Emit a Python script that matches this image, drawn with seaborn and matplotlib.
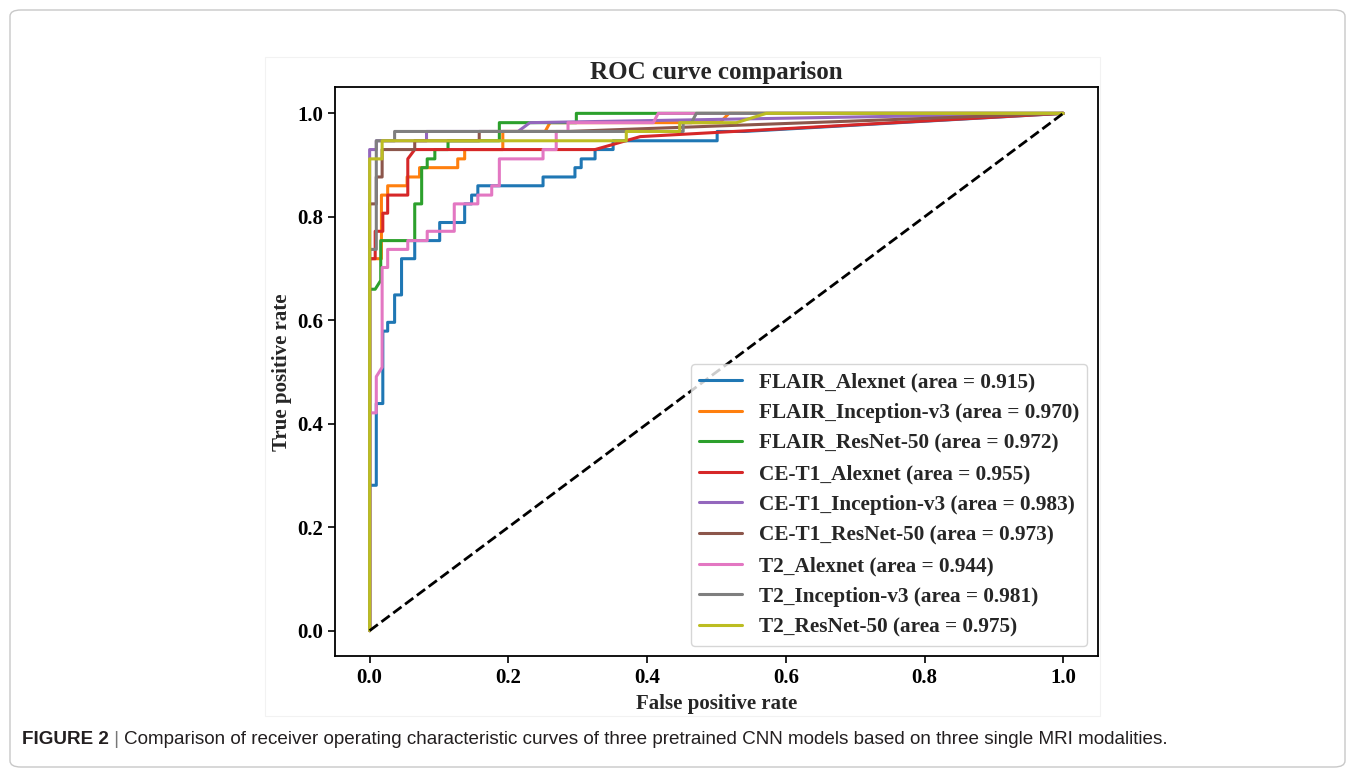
import matplotlib
matplotlib.use("Agg")
import matplotlib.pyplot as plt
import seaborn as sns
from matplotlib.patches import FancyBboxPatch, Rectangle

# ROC curve vertices (fpr, tpr)
flair_alexnet_fpr = [0, 0, 0.0096, 0.0096, 0.019, 0.019, 0.026, 0.026, 0.036, 0.036, 0.046, 0.046,
                     0.065, 0.065, 0.101, 0.101, 0.137, 0.137, 0.147, 0.147, 0.156, 0.156, 0.25, 0.25,
                     0.296, 0.296, 0.305, 0.305, 0.325, 0.325, 0.351, 0.351, 0.501, 0.501, 0.54, 1.0]
flair_alexnet_tpr = [0, 0.281, 0.281, 0.439, 0.439, 0.579, 0.579, 0.596, 0.596, 0.649, 0.649, 0.719,
                     0.719, 0.754, 0.754, 0.789, 0.789, 0.825, 0.825, 0.842, 0.842, 0.86, 0.86, 0.877,
                     0.877, 0.895, 0.895, 0.912, 0.912, 0.93, 0.93, 0.947, 0.947, 0.965, 0.965, 1.0]

flair_inception_fpr = [0, 0, 0.017, 0.017, 0.026, 0.026, 0.054, 0.054, 0.072, 0.072, 0.127, 0.127,
                       0.137, 0.137, 0.192, 0.192, 0.253, 0.26, 0.505, 0.518, 1.0]
flair_inception_tpr = [0, 0.719, 0.719, 0.842, 0.842, 0.86, 0.86, 0.877, 0.877, 0.895, 0.895, 0.912,
                       0.912, 0.93, 0.93, 0.965, 0.965, 0.982, 0.982, 1.0, 1.0]

flair_resnet_fpr = [0, 0, 0.008, 0.016, 0.016, 0.065, 0.065, 0.075, 0.075, 0.083, 0.083, 0.094,
                    0.094, 0.113, 0.113, 0.187, 0.187, 0.298, 0.298, 1.0]
flair_resnet_tpr = [0, 0.66, 0.66, 0.677, 0.754, 0.754, 0.825, 0.825, 0.895, 0.895, 0.912, 0.912,
                    0.93, 0.93, 0.947, 0.947, 0.982, 0.982, 1.0, 1.0]

cet1_alexnet_fpr = [0, 0, 0.008, 0.008, 0.019, 0.019, 0.026, 0.026, 0.055, 0.055, 0.065, 0.325, 0.39, 1.0]
cet1_alexnet_tpr = [0, 0.719, 0.719, 0.772, 0.772, 0.807, 0.807, 0.842, 0.842, 0.912, 0.93, 0.93, 0.955, 1.0]

cet1_inception_fpr = [0, 0, 0.0096, 0.0096, 0.082, 0.082, 0.214, 0.231, 1.0]
cet1_inception_tpr = [0, 0.93, 0.93, 0.947, 0.947, 0.965, 0.965, 0.982, 1.0]

cet1_resnet_fpr = [0, 0, 0.0096, 0.0096, 0.018, 0.018, 0.065, 0.065, 0.158, 0.158, 0.286, 1.0]
cet1_resnet_tpr = [0, 0.825, 0.825, 0.877, 0.877, 0.93, 0.93, 0.947, 0.947, 0.965, 0.965, 1.0]

t2_alexnet_fpr = [0, 0, 0.0096, 0.0096, 0.018, 0.018, 0.026, 0.026, 0.055, 0.055, 0.083, 0.083,
                  0.122, 0.122, 0.156, 0.156, 0.176, 0.176, 0.187, 0.187, 0.25, 0.25, 0.269, 0.269,
                  0.286, 0.286, 0.409, 0.416, 1.0]
t2_alexnet_tpr = [0, 0.421, 0.421, 0.491, 0.509, 0.702, 0.702, 0.737, 0.737, 0.754, 0.754, 0.772,
                  0.772, 0.825, 0.825, 0.842, 0.842, 0.86, 0.86, 0.912, 0.912, 0.93, 0.93, 0.965,
                  0.965, 0.982, 0.982, 1.0, 1.0]

t2_inception_fpr = [0, 0, 0.0096, 0.0096, 0.036, 0.036, 0.452, 0.452, 0.464, 0.471, 1.0]
t2_inception_tpr = [0, 0.737, 0.737, 0.947, 0.947, 0.965, 0.965, 0.982, 0.982, 1.0, 1.0]

t2_resnet_fpr = [0, 0, 0.018, 0.018, 0.37, 0.37, 0.447, 0.447, 0.529, 0.572, 1.0]
t2_resnet_tpr = [0, 0.912, 0.912, 0.947, 0.947, 0.965, 0.965, 0.982, 0.982, 1.0, 1.0]

model_names = ["FLAIR_Alexnet", "FLAIR_Inception-v3", "FLAIR_ResNet-50",
               "CE-T1_Alexnet", "CE-T1_Inception-v3", "CE-T1_ResNet-50",
               "T2_Alexnet", "T2_Inception-v3", "T2_ResNet-50"]
auc_values = [0.915, 0.970, 0.972, 0.955, 0.983, 0.973, 0.944, 0.981, 0.975]
curves = [(flair_alexnet_fpr, flair_alexnet_tpr), (flair_inception_fpr, flair_inception_tpr),
          (flair_resnet_fpr, flair_resnet_tpr), (cet1_alexnet_fpr, cet1_alexnet_tpr),
          (cet1_inception_fpr, cet1_inception_tpr), (cet1_resnet_fpr, cet1_resnet_tpr),
          (t2_alexnet_fpr, t2_alexnet_tpr), (t2_inception_fpr, t2_inception_tpr),
          (t2_resnet_fpr, t2_resnet_tpr)]
tick_values = [0.0, 0.2, 0.4, 0.6, 0.8, 1.0]

sns.set_style("ticks")
plt.rcParams["font.family"] = ["Liberation Serif", "DejaVu Serif"]
plt.rcParams["font.weight"] = "bold"
plt.rcParams["axes.labelweight"] = "bold"
plt.rcParams["axes.titleweight"] = "bold"
plt.rcParams["axes.edgecolor"] = "black"
plt.rcParams["xtick.color"] = "black"
plt.rcParams["ytick.color"] = "black"

fig = plt.figure(figsize=(13.55, 7.77), dpi=100)
ax = fig.add_axes([0.2472, 0.1551, 0.5631, 0.7323])

palette = sns.color_palette("tab10", 9)
for (fpr, tpr), name, auc, color in zip(curves, model_names, auc_values, palette):
    sns.lineplot(x=fpr, y=tpr, ax=ax, sort=False, estimator=None, color=color,
                 linewidth=2.2, label=f"{name} (area = {auc:.3f})")

ax.plot([0, 1], [0, 1], "k--", linewidth=2)

ax.set_xlim(-0.05, 1.05)
ax.set_ylim(-0.05, 1.05)
ax.set_xticks(tick_values)
ax.set_yticks(tick_values)
ax.set_xticklabels([f"{t:.1f}" for t in tick_values])
ax.set_yticklabels([f"{t:.1f}" for t in tick_values])
ax.tick_params(labelsize=15, width=1.2, length=5, colors="black")
for s in ax.spines.values():
    s.set_linewidth(1.3)
    s.set_color("black")

ax.set_xlabel("False positive rate", fontsize=15)
ax.set_ylabel("True positive rate", fontsize=15)
ax.set_title("ROC curve comparison", fontsize=18)
ax.legend(loc="lower right", prop={"weight": "bold", "size": 15.3})

# faint border of the embedded chart image and the outer caption box
fig.patches.append(Rectangle((265 / 1355, 1 - 716 / 777), (1100 - 265) / 1355, (716 - 57) / 777,
                             transform=fig.transFigure, fill=False, ec="#f2f2f2", lw=0.8))
fig.patches.append(FancyBboxPatch((10 / 1355, 10 / 777), 1335 / 1355, 757 / 777,
                                  boxstyle="round,pad=0,rounding_size=0.008",
                                  transform=fig.transFigure, fill=False, ec="#c8c8c8", lw=1.0))

cap = ["Liberation Sans", "DejaVu Sans"]
t1 = fig.text(22 / 1355, 1 - 740 / 777, "FIGURE 2", family=cap, fontweight="bold",
              fontsize=13.6, color="#231f20", va="center")
t2 = ax.annotate(" | ", xy=(1, 0), xycoords=t1, va="bottom", ha="left", family=cap,
                 fontweight="normal", fontsize=13.6, color="#777777", annotation_clip=False)
ax.annotate("Comparison of receiver operating characteristic curves of three pretrained CNN models "
            "based on three single MRI modalities.", xy=(1, 0), xycoords=t2, va="bottom",
            ha="left", family=cap, fontweight="normal", fontsize=13.6, color="#231f20",
            annotation_clip=False)

fig.savefig("out.png", dpi=100)
